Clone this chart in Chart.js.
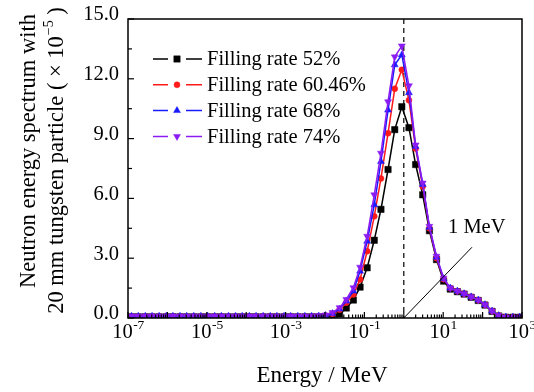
<!DOCTYPE html>
<html><head><meta charset="utf-8">
<script src="https://cdn.jsdelivr.net/npm/chart.js@4/dist/chart.umd.min.js"></script>
<style>html,body{margin:0;padding:0;background:#fff;}</style>
</head><body>
<canvas id="c" width="534" height="392"></canvas>
<script>
// log10 of neutron energy (MeV) for each bin
const logEnergy = [-6.91,-6.74,-6.56,-6.39,-6.21,-6.03,-5.86,-5.68,-5.51,-5.33,-5.15,-4.98,-4.80,-4.63,-4.45,-4.27,-4.10,-3.92,-3.75,-3.57,-3.39,-3.22,-3.04,-2.87,-2.69,-2.51,
  -2.34,-2.16,-1.99,-1.81,-1.63,-1.46,-1.28,-1.11,-0.93,-0.75,-0.58,-0.40,-0.23,-0.05,
  0.13,0.30,0.48,0.65,0.83,1.01,1.18,1.36,1.53,1.71,1.89,2.06,2.24,2.41,2.59,2.77,2.94];

const rate52 = [0.06,0.06,0.06,0.06,0.06,0.06,0.06,0.06,0.06,0.06,0.06,0.06,0.06,0.06,0.06,0.06,0.06,0.06,0.06,0.06,0.06,0.06,0.06,0.06,0.06,0.06,
  0.06,0.06,0.07,0.09,0.20,0.50,0.90,1.55,2.52,3.90,5.45,7.45,9.45,10.60,
  9.55,7.70,6.18,4.38,2.93,1.85,1.45,1.32,1.20,1.04,0.88,0.65,0.33,0.10,0.04,0.04,0.04];

const rate6046 = [0.08,0.08,0.08,0.08,0.08,0.08,0.08,0.08,0.08,0.08,0.08,0.08,0.08,0.08,0.08,0.08,0.08,0.08,0.08,0.08,0.08,0.08,0.08,0.08,0.08,0.08,
  0.08,0.09,0.12,0.20,0.42,0.77,1.18,1.93,3.35,5.10,7.00,9.27,11.50,12.45,
  10.93,8.50,6.60,4.50,3.00,1.95,1.50,1.35,1.22,1.06,0.90,0.67,0.35,0.12,0.05,0.05,0.05];

const rate68 = [0.09,0.09,0.09,0.09,0.09,0.09,0.09,0.09,0.09,0.09,0.09,0.09,0.09,0.09,0.09,0.09,0.09,0.09,0.09,0.09,0.09,0.09,0.09,0.09,0.09,0.09,
  0.09,0.10,0.13,0.22,0.45,0.85,1.35,2.35,3.85,5.68,7.85,10.43,12.70,13.20,
  11.30,8.60,6.70,4.55,3.05,1.98,1.50,1.35,1.22,1.06,0.90,0.67,0.35,0.12,0.05,0.05,0.05];

const rate74 = [0.10,0.10,0.10,0.10,0.10,0.10,0.10,0.10,0.10,0.10,0.10,0.10,0.10,0.10,0.10,0.10,0.10,0.10,0.10,0.10,0.10,0.10,0.10,0.10,0.10,0.10,
  0.10,0.12,0.15,0.27,0.52,0.93,1.52,2.55,4.10,6.18,8.27,10.85,13.10,13.65,
  11.65,8.68,6.77,4.60,3.10,2.00,1.50,1.35,1.22,1.06,0.90,0.67,0.35,0.12,0.05,0.05,0.05];

const seriesLabels = ['Filling rate 52%', 'Filling rate 60.46%', 'Filling rate 68%', 'Filling rate 74%'];
const yTickValues = [0, 3, 6, 9, 12, 15];
const xTickExponents = [-7, -5, -3, -1, 1, 3];
const markEnergy = 1;           // MeV, dashed line
const markLabel = '1 MeV';
const xTitle = 'Energy / MeV';
const yTitle1 = 'Neutron energy spectrum with';
const yTitle2 = '20 mm tungsten particle ( \u00D7 10';
const yTitleExp = '\u22125';

const energies = logEnergy.map(v => Math.pow(10, v));
const toPts = arr => arr.map((y, i) => ({ x: energies[i], y: y }));

const styles = [
  { color: '#000000', point: 'rect', radius: 4.5, rot: 0 },
  { color: '#ff1a1a', point: 'circle', radius: 3.0, rot: 0 },
  { color: '#1a1aff', point: 'triangle', radius: 4.0, rot: 0 },
  { color: '#8a1cf2', point: 'triangle', radius: 4.0, rot: 180 }
];
const seriesData = [rate52, rate6046, rate68, rate74];

const datasets = seriesData.map((d, i) => ({
  label: seriesLabels[i],
  data: toPts(d),
  borderColor: styles[i].color,
  backgroundColor: styles[i].color,
  pointBackgroundColor: styles[i].color,
  pointBorderColor: styles[i].color,
  pointStyle: styles[i].point,
  pointRotation: styles[i].rot,
  pointRadius: styles[i].radius,
  pointBorderWidth: 0.5,
  borderWidth: 1.5,
  tension: 0,
  fill: false,
  order: 3 - i
}));

const SERIF = '"Liberation Serif", "Times New Roman", serif';

function drawMarker(ctx, st, x, y) {
  ctx.save();
  ctx.fillStyle = st.color; ctx.strokeStyle = st.color; ctx.lineWidth = 0.5;
  Chart.helpers.drawPoint(ctx, { pointStyle: st.point, rotation: st.rot, radius: st.radius, borderWidth: 0.5 }, x, y);
  ctx.restore();
}

const decor = {
  id: 'decor',
  beforeDatasetsDraw(chart) {
    const ctx = chart.ctx, a = chart.chartArea, xs = chart.scales.x;
    const px = xs.getPixelForValue(markEnergy);
    ctx.save();
    ctx.strokeStyle = '#000'; ctx.lineWidth = 1.2; ctx.setLineDash([5, 4]);
    ctx.beginPath(); ctx.moveTo(px, a.top); ctx.lineTo(px, a.bottom); ctx.stroke();
    ctx.restore();
  },
  afterDatasetsDraw(chart) {
    const ctx = chart.ctx, a = chart.chartArea, xs = chart.scales.x, ys = chart.scales.y;
    ctx.save();
    ctx.strokeStyle = '#000'; ctx.fillStyle = '#000'; ctx.lineWidth = 1.5;
    ctx.strokeRect(a.left, a.top, a.right - a.left, a.bottom - a.top);

    // y ticks (inward)
    ctx.lineWidth = 1.2;
    for (let v = 0; v <= 15.001; v += 1.5) {
      const py = ys.getPixelForValue(v);
      const len = (Math.abs(v % 3) < 0.01) ? 6 : 4;
      ctx.beginPath(); ctx.moveTo(a.left, py); ctx.lineTo(a.left + len, py); ctx.stroke();
    }
    ctx.font = '20.5px ' + SERIF; ctx.textAlign = 'right'; ctx.textBaseline = 'middle';
    yTickValues.forEach(v => ctx.fillText(v.toFixed(1), a.left - 9, ys.getPixelForValue(v) - 4));

    // x ticks (inward)
    for (let e = -7; e <= 3; e++) {
      const p = xs.getPixelForValue(Math.pow(10, e));
      ctx.beginPath(); ctx.moveTo(p, a.bottom); ctx.lineTo(p, a.bottom - 6); ctx.stroke();
      if (e < 3) {
        for (let m = 2; m <= 9; m++) {
          const q = xs.getPixelForValue(m * Math.pow(10, e));
          ctx.beginPath(); ctx.moveTo(q, a.bottom); ctx.lineTo(q, a.bottom - 3.5); ctx.stroke();
        }
      }
    }
    ctx.textAlign = 'left'; ctx.textBaseline = 'alphabetic';
    xTickExponents.forEach(e => {
      const p = xs.getPixelForValue(Math.pow(10, e));
      ctx.font = '20.5px ' + SERIF; const w1 = ctx.measureText('10').width;
      const sup = String(e);
      ctx.font = '13.5px ' + SERIF; const w2 = ctx.measureText(sup).width;
      const x0 = p - (w1 + w2) / 2;
      ctx.font = '20.5px ' + SERIF; ctx.fillText('10', x0, a.bottom + 20);
      ctx.font = '13.5px ' + SERIF; ctx.fillText(sup, x0 + w1 + 0.5, a.bottom + 11);
    });

    // x title
    ctx.font = '23px ' + SERIF; ctx.textAlign = 'center';
    ctx.fillText(xTitle, (a.left + a.right) / 2 - 3, 382);

    // y title (rotated)
    ctx.save();
    ctx.translate(29, 151); ctx.rotate(-Math.PI / 2);
    ctx.textAlign = 'center'; ctx.textBaseline = 'middle'; ctx.font = '22.5px ' + SERIF;
    ctx.fillText(yTitle1, 0, 0);
    ctx.restore();
    ctx.save();
    ctx.translate(57, 161); ctx.rotate(-Math.PI / 2);
    ctx.textBaseline = 'middle'; ctx.textAlign = 'left';
    ctx.font = '22.5px ' + SERIF; const wa = ctx.measureText(yTitle2).width;
    ctx.font = '14px ' + SERIF; const wb = ctx.measureText(yTitleExp).width;
    ctx.font = '22.5px ' + SERIF; const wc = ctx.measureText(' )').width;
    const tot = wa + wb + wc; let x0 = -tot / 2;
    ctx.fillText(yTitle2, x0, 0);
    ctx.font = '14px ' + SERIF; ctx.fillText(yTitleExp, x0 + wa + 1, -8);
    ctx.font = '22.5px ' + SERIF; ctx.fillText(' )', x0 + wa + wb + 1, 0);
    ctx.restore();

    // annotation
    const ax0 = xs.getPixelForValue(markEnergy), ay0 = ys.getPixelForValue(0);
    const ax1 = xs.getPixelForValue(Math.pow(10, 1.73)), ay1 = ys.getPixelForValue(3.55);
    ctx.lineWidth = 1; ctx.setLineDash([]);
    ctx.beginPath(); ctx.moveTo(ax0, ay0); ctx.lineTo(ax1, ay1); ctx.stroke();
    ctx.font = '20.5px ' + SERIF; ctx.textAlign = 'left'; ctx.textBaseline = 'alphabetic';
    ctx.fillText(markLabel, 448, 233);

    // legend
    seriesLabels.forEach((lab, i) => {
      const st = styles[i]; const y = 59 + i * 25.8;
      ctx.strokeStyle = st.color; ctx.lineWidth = 1.5;
      ctx.beginPath(); ctx.moveTo(153, y); ctx.lineTo(168, y); ctx.moveTo(186, y); ctx.lineTo(202, y); ctx.stroke();
      drawMarker(ctx, st, 177, y);
      ctx.fillStyle = '#000'; ctx.font = '20.5px ' + SERIF; ctx.textAlign = 'left'; ctx.textBaseline = 'middle';
      ctx.fillText(lab, 207, y + 1);
    });
    ctx.restore();
  }
};

new Chart(document.getElementById('c'), {
  type: 'line',
  data: { datasets: datasets },
  options: {
    responsive: false,
    animation: false,
    layout: { padding: { left: 128, right: 12, top: 19, bottom: 74 } },
    plugins: { legend: { display: false }, tooltip: { enabled: false } },
    scales: {
      x: { type: 'logarithmic', min: 1e-7, max: 1e3, display: false },
      y: { type: 'linear', min: 0, max: 15, display: false }
    }
  },
  plugins: [decor]
});
</script>
</body></html>
